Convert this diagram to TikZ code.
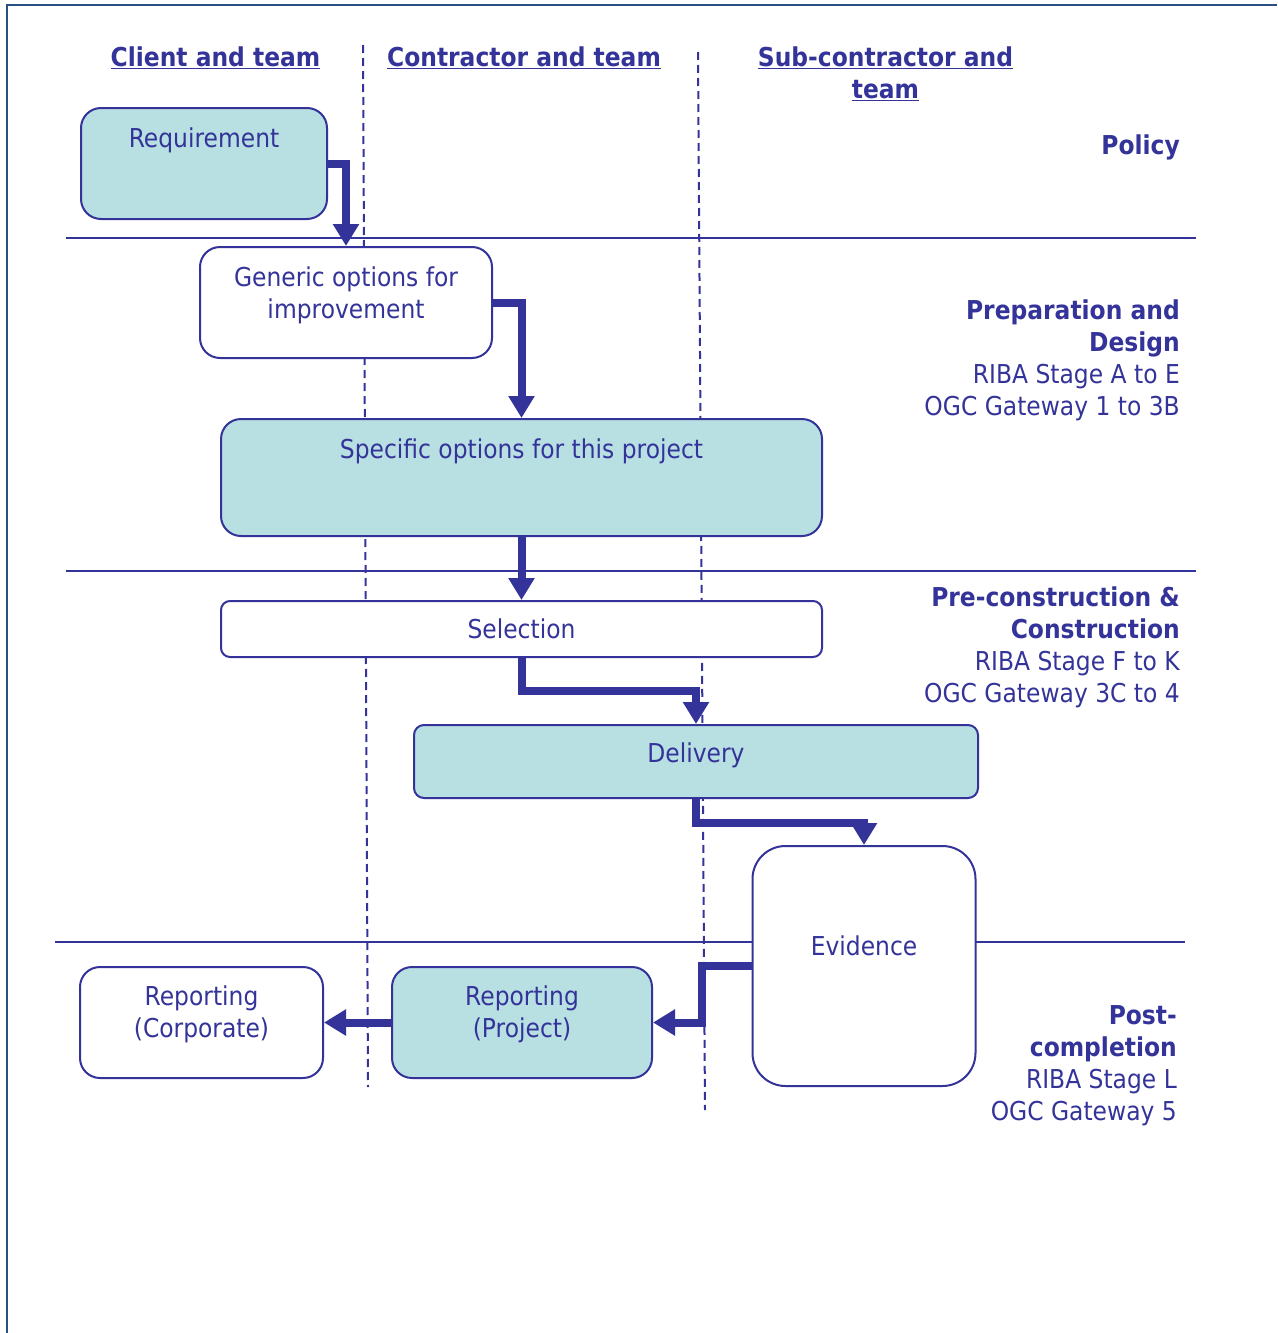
\documentclass[tikz,border=0pt]{standalone}
\usepackage{fontspec}
\setmainfont{DejaVu Sans}[FakeStretch=0.9]
\usetikzlibrary{arrows.meta}
\definecolor{navy}{RGB}{51,51,153}
\definecolor{teal}{RGB}{184,223,226}
\definecolor{framec}{RGB}{40,80,130}
\tikzset{
  boxbase/.style={draw=navy, line width=2pt, inner sep=0pt},
  filledbox/.style={boxbase, fill=teal},
  plainbox/.style={boxbase, fill=white},
  txt/.style={text=navy, font=\fontsize{26}{32}\selectfont, inner sep=0pt, anchor=base, align=center},
  rtxt/.style={text=navy, font=\fontsize{26}{32}\selectfont, inner sep=0pt, anchor=base east, align=right},
  sepline/.style={draw=navy, line width=2pt},
  lane/.style={draw=navy, line width=2pt, dash pattern=on 8pt off 5pt},
  flow/.style={draw=navy, line width=8pt, line join=miter, -{Triangle[length=22pt,width=25pt]}},
  framel/.style={draw=framec, line width=2pt}
}
\begin{document}
\begin{tikzpicture}[x=1pt,y=-1pt]
\useasboundingbox (0,0) rectangle (1277,1333);
% frame
\draw[framel] (7,1333) -- (7,5) -- (1277,5);
% swimlane separators
\draw[lane] (363,45) -- (368,1087);
\draw[lane] (698,52) -- (705,1110);
% stage separators
\draw[sepline] (66,238) -- (1196,238);
\draw[sepline] (66,571) -- (1196,571);
\draw[sepline] (55,942) -- (1185,942);
% headers
\node[txt] (h1) at (215.5,66) {\underline{\textbf{Client and team}}};
\node[txt] (h2) at (524,66) {\underline{\textbf{Contractor and team}}};
\node[txt] (h3a) at (885.5,66) {\underline{\textbf{Sub-contractor and}}};
\node[txt] (h3b) at (885.5,98) {\underline{\textbf{team}}};
% stage labels (base anchor = last line)
\node[rtxt] (s1) at (1180,154) {\textbf{Policy}};
\node[rtxt] (s2) at (1180,415) {\textbf{Preparation and}\\\textbf{Design}\\RIBA Stage A to E\\OGC Gateway 1 to 3B};
\node[rtxt] (s3) at (1180,702) {\textbf{Pre-construction \&}\\\textbf{Construction}\\RIBA Stage F to K\\OGC Gateway 3C to 4};
\node[rtxt] (s4) at (1177,1120) {\textbf{Post-}\\\textbf{completion}\\RIBA Stage L\\OGC Gateway 5};
% boxes
\node[filledbox, rounded corners=20pt, minimum width=246, minimum height=111] (req) at (204,163.5) {};
\node[plainbox, rounded corners=20pt, minimum width=292, minimum height=111] (gen) at (346,302.5) {};
\node[filledbox, rounded corners=20pt, minimum width=601, minimum height=117] (spec) at (521.5,477.5) {};
\node[plainbox, rounded corners=9pt, minimum width=601, minimum height=56] (sel) at (521.5,629) {};
\node[filledbox, rounded corners=10pt, minimum width=564, minimum height=73] (del) at (696,761.5) {};
\node[plainbox, rounded corners=33pt, minimum width=223, minimum height=240] (evi) at (864,966) {};
\node[filledbox, rounded corners=20pt, minimum width=260, minimum height=111] (rp) at (522,1022.5) {};
\node[plainbox, rounded corners=20pt, minimum width=243, minimum height=111] (rc) at (201.5,1022.5) {};
% box texts
\node[txt] (treq) at (204,147) {Requirement};
\node[txt] (tgen) at (346,318) {Generic options for\\improvement};
\node[txt] (tspec) at (521.5,458) {Specific options for this project};
\node[txt] (tsel) at (521.5,638) {Selection};
\node[txt] (tdel) at (696,762) {Delivery};
\node[txt] (tevi) at (864,955) {Evidence};
\node[txt] (trp) at (522,1037) {Reporting\\(Project)};
\node[txt] (trc) at (201.5,1037) {Reporting\\(Corporate)};
% flow arrows
\draw[flow] (req.east) -| (gen.north);
\draw[flow] (gen.east) -| (spec.north);
\draw[flow] (spec.south) -- (sel.north);
\draw[flow] (sel.south) -- ++(0,33) -| (del.north);
\draw[flow] (del.south) -- ++(0,24) -| (evi.north);
\draw[flow] (evi.west) -- ++(-50,0) |- (rp.east);
\draw[flow] (rp.west) -- (rc.east);
\end{tikzpicture}
\end{document}
